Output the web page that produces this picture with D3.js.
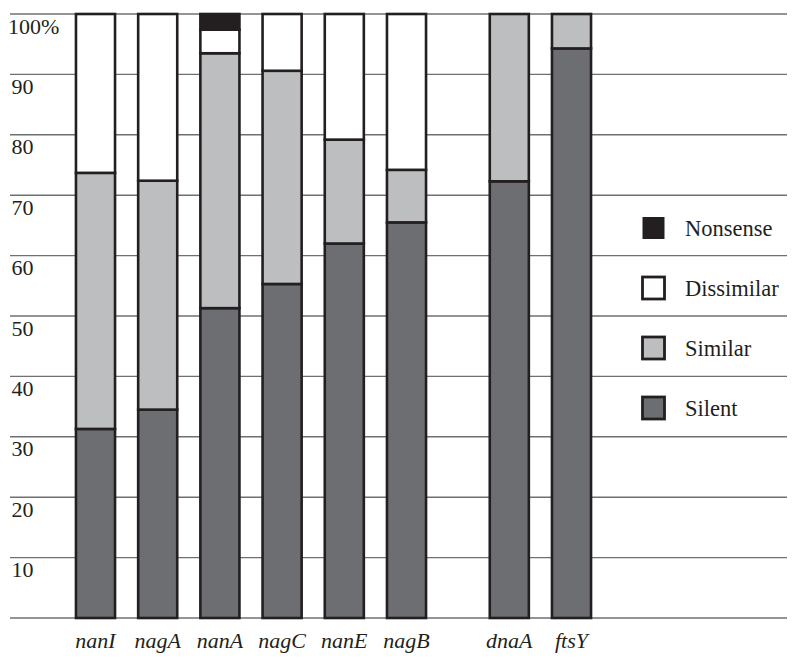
<!DOCTYPE html>
<html>
<head>
<meta charset="utf-8">
<script src="https://cdn.jsdelivr.net/npm/d3@7/dist/d3.min.js"></script>
<style>
  html, body { margin: 0; padding: 0; background: #fff; }
  svg { display: block; }
  text { font-family: "Liberation Serif", "Times New Roman", serif; fill: #231f20; }
</style>
</head>
<body>
<script>
// ---- data ----
const genes = ["nanI", "nagA", "nanA", "nagC", "nanE", "nagB", "dnaA", "ftsY"];
const groups = ["test", "test", "test", "test", "test", "test", "control", "control"];
const silent     = [31.3, 34.5, 51.3, 55.3, 62.0, 65.5, 72.3, 94.3];
const similar    = [42.4, 37.9, 42.2, 35.3, 17.2,  8.7, 27.7,  5.7];
const dissimilar = [26.3, 27.6,  3.9,  9.4, 20.8, 25.8,  0.0,  0.0];
const nonsense   = [ 0.0,  0.0,  2.6,  0.0,  0.0,  0.0,  0.0,  0.0];
const seriesNames = ["Silent", "Similar", "Dissimilar", "Nonsense"];
const seriesValues = [silent, similar, dissimilar, nonsense];
const yTicks = [10, 20, 30, 40, 50, 60, 70, 80, 90, 100];
const yTickLabels = ["10", "20", "30", "40", "50", "60", "70", "80", "90", "100%"];
const legendOrder = ["Nonsense", "Dissimilar", "Similar", "Silent"];

// ---- styling ----
const colors = { Silent: "#6d6e71", Similar: "#bcbec0", Dissimilar: "#ffffff", Nonsense: "#231f20" };
const W = 800, H = 662;

const svg = d3.select("body").append("svg").attr("width", W).attr("height", H);

const y = d3.scaleLinear().domain([0, 100]).range([618, 14]);
const x = d3.scaleBand().domain(genes).range([64.4, 562.0]).paddingInner(0.372).paddingOuter(0.186);
const groupGap = { test: 0, control: 40.6 };
const xPos = (g, i) => x(g) + groupGap[groups[i]];

// gridlines
svg.append("g").selectAll("line")
  .data([0].concat(yTicks))
  .join("line")
  .attr("x1", 10).attr("x2", 787)
  .attr("y1", d => y(d)).attr("y2", d => y(d))
  .attr("stroke", "#6f7072").attr("stroke-width", 1.4);

// tick labels
svg.append("g").selectAll("text")
  .data(yTicks)
  .join("text")
  .attr("x", (d, i) => yTickLabels[i].length > 2 ? 8 : 11.5)
  .attr("y", d => y(d) + 19.5)
  .attr("font-size", 22)
  .text((d, i) => yTickLabels[i]);

// stacked data
const stackData = genes.map((g, i) => {
  const o = { gene: g, idx: i };
  seriesNames.forEach((s, k) => { o[s] = seriesValues[k][i]; });
  return o;
});
const stack = d3.stack().keys(seriesNames);
const layers = stack(stackData);

const bw = x.bandwidth();
svg.append("g").selectAll("g")
  .data(layers)
  .join("g")
  .attr("fill", d => colors[d.key])
  .selectAll("rect")
  .data(d => d.filter(p => p[1] - p[0] > 0))
  .join("rect")
  .attr("x", p => xPos(p.data.gene, p.data.idx))
  .attr("width", bw)
  .attr("y", p => y(p[1]))
  .attr("height", p => y(p[0]) - y(p[1]))
  .attr("stroke", "#231f20")
  .attr("stroke-width", 2.6);

// x labels
svg.append("g").selectAll("text")
  .data(genes)
  .join("text")
  .attr("x", (g, i) => xPos(g, i) + bw / 2)
  .attr("y", 648)
  .attr("text-anchor", "middle")
  .attr("font-size", 22)
  .attr("font-style", "italic")
  .text(g => g);

// legend
const legY = d3.scalePoint().domain(legendOrder).range([227.5, 407.5]);
const leg = svg.append("g").selectAll("g")
  .data(legendOrder)
  .join("g")
  .attr("transform", d => `translate(0,${legY(d)})`);
leg.append("rect")
  .attr("x", 642.5).attr("y", -10.5)
  .attr("width", 22).attr("height", 22)
  .attr("fill", d => colors[d])
  .attr("stroke", "#231f20")
  .attr("stroke-width", d => d === "Nonsense" ? 0 : 2.8);
leg.append("text")
  .attr("x", 685)
  .attr("y", 8)
  .attr("font-size", 22.5)
  .text(d => d);
</script>
</body>
</html>
